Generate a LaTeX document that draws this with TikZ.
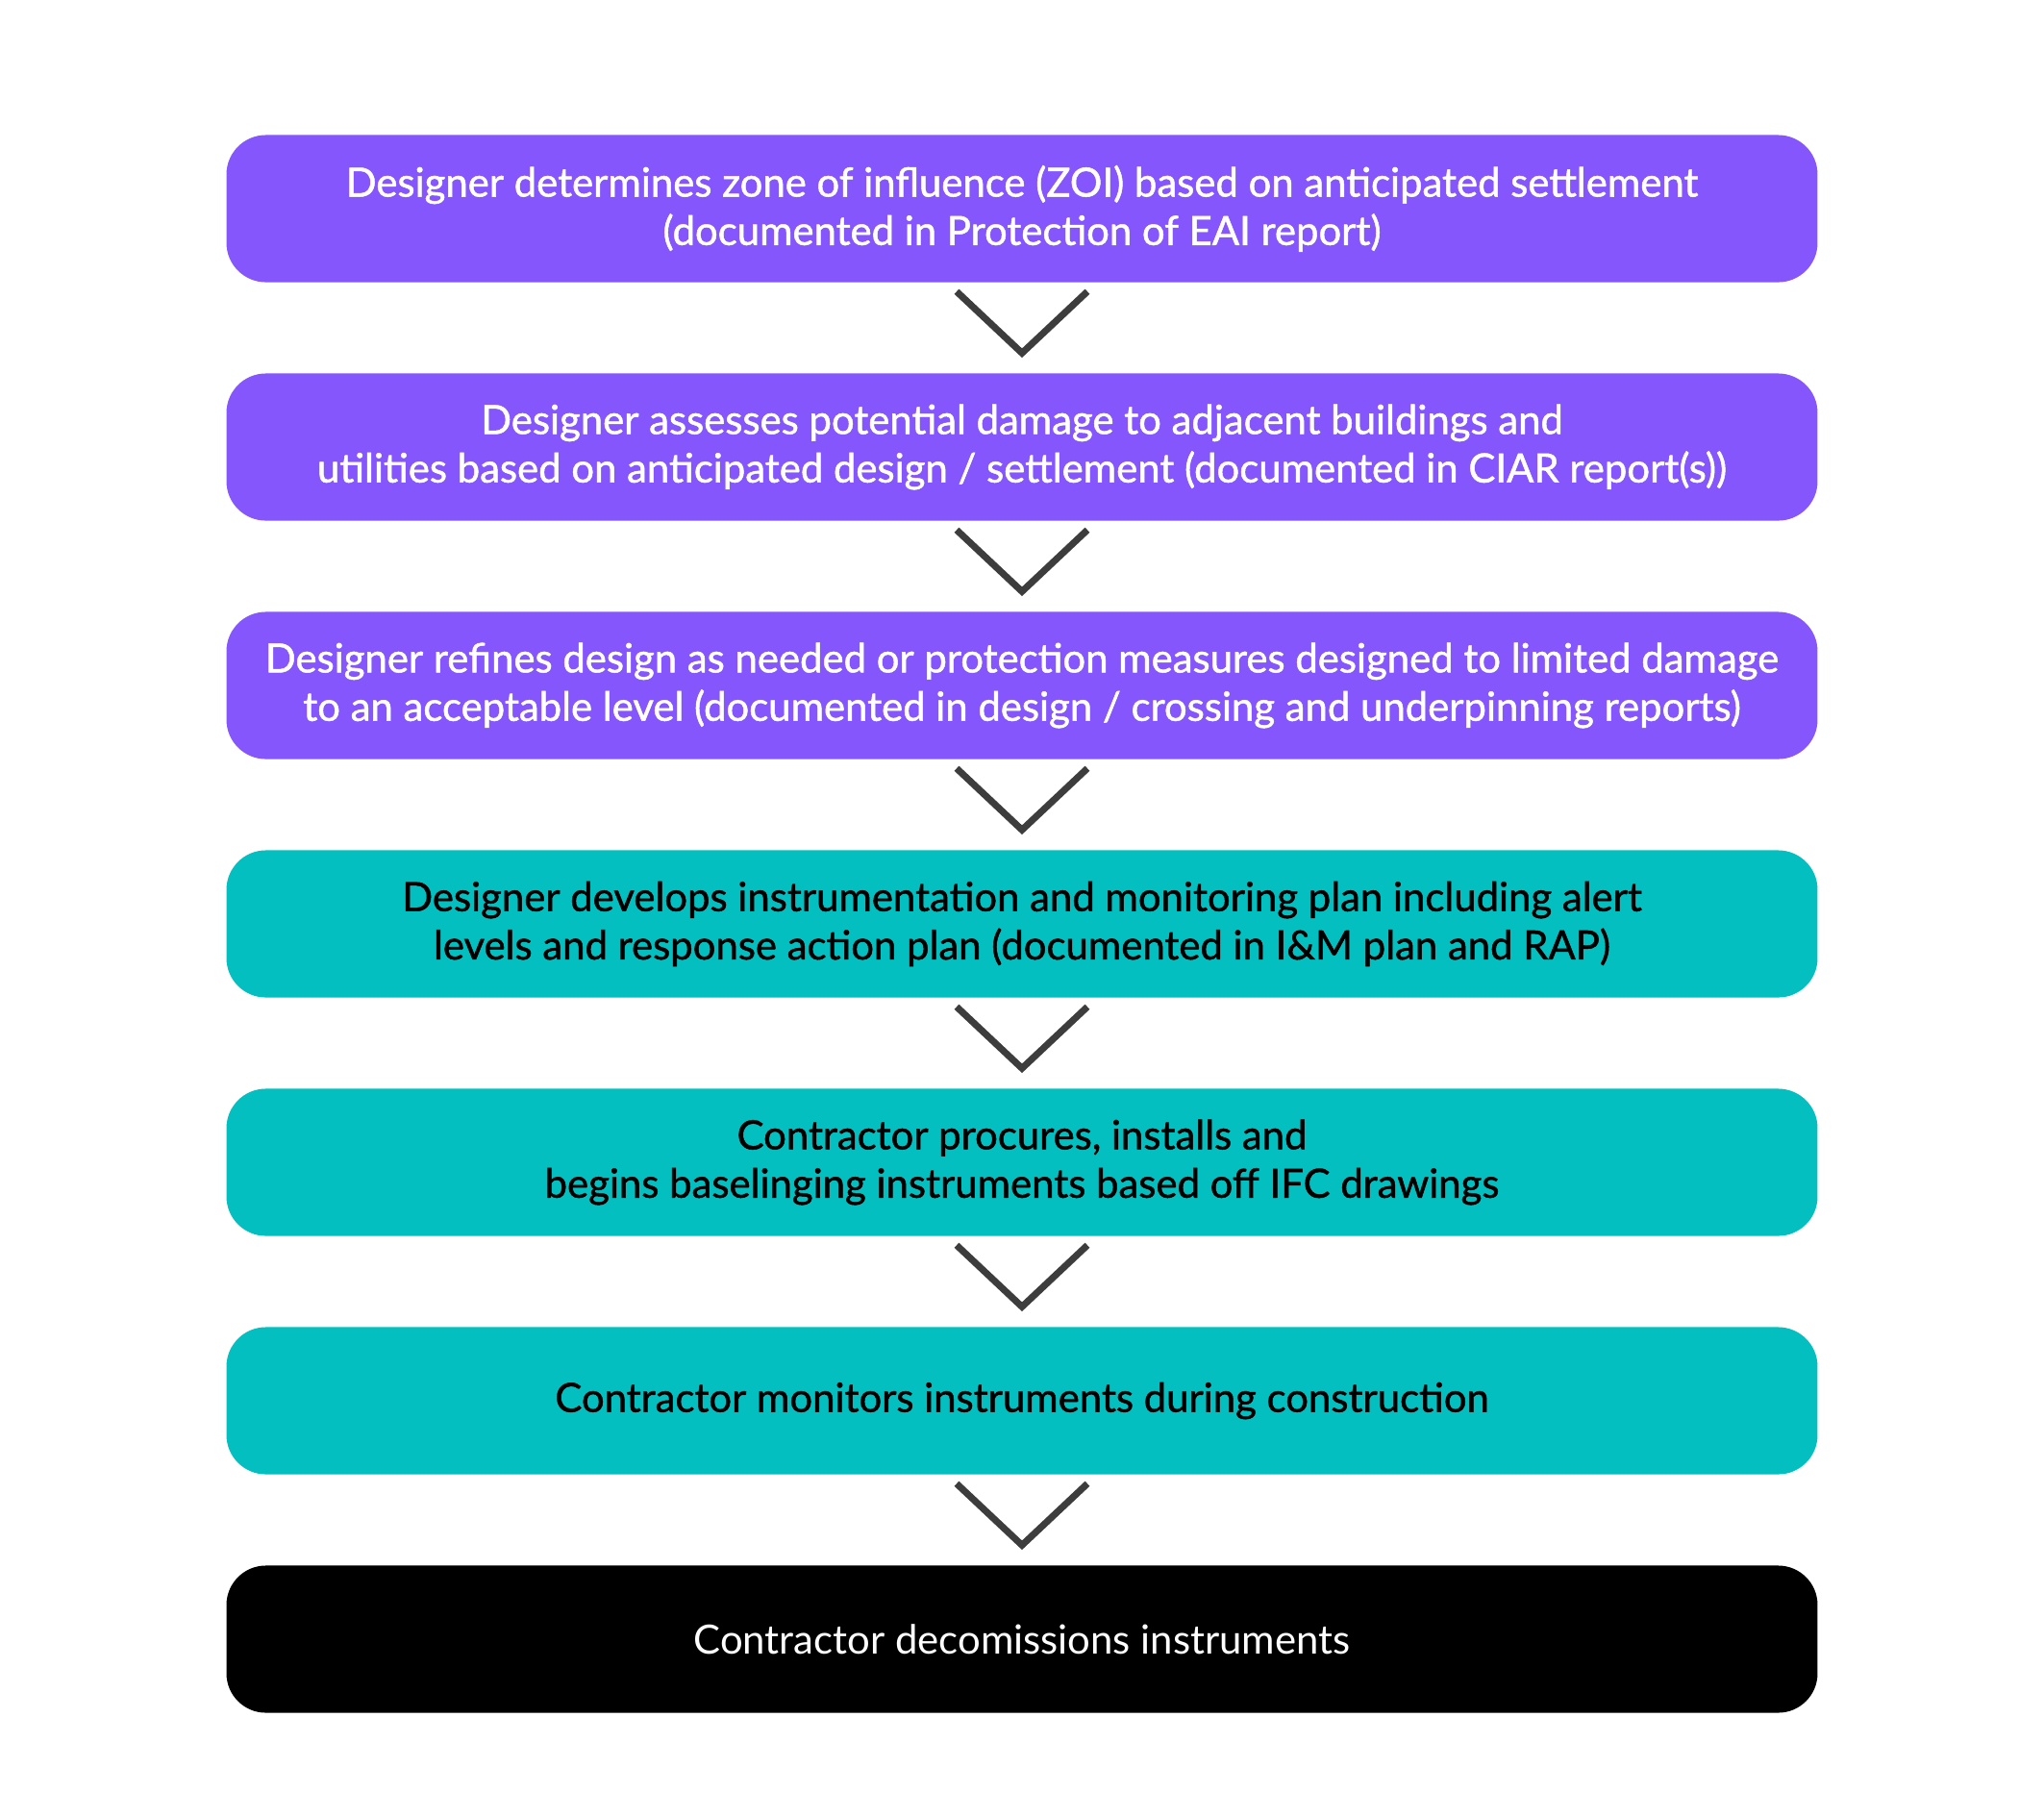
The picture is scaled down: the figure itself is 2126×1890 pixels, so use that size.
\documentclass[tikz,border=0pt]{standalone}
\usepackage{fontspec}
\setmainfont{Lato}
\newfontfamily\medfont[FakeBold=1.2]{Lato}
\usetikzlibrary{calc}
\definecolor{vio}{HTML}{8456FC}
\definecolor{tea}{HTML}{04BFBF}
\definecolor{chev}{HTML}{3D3D3D}
\begin{document}
\begin{tikzpicture}[x=0.01cm,y=-0.01cm,
 box/.style={rounded corners=0.41cm,minimum width=16.54cm,minimum height=1.53cm,align=center,font=\medfont\fontsize{11.9}{14.3}\selectfont,inner sep=0pt},
 pbox/.style={box,fill=vio,text=white},
 tbox/.style={box,fill=tea,text=black},
 kbox/.style={box,fill=black,text=white,font=\rmfamily\fontsize{11.9}{14.3}\selectfont},
 chv/.style={draw=chev,line width=2pt}]
\useasboundingbox (0,0) rectangle (2126,1890);
\node[pbox] (b1) at (1063,217) {Designer determines zone of influence (ZOI) based on anticipated settlement\\(documented in Protection of EAI report)};
\node[pbox] (b2) at (1063,465) {Designer assesses potential damage to adjacent buildings and\\utilities based on anticipated design / settlement (documented in CIAR report(s))};
\node[pbox] (b3) at (1063,713) {Designer refines design as needed or protection measures designed to limited damage\\to an acceptable level (documented in design / crossing and underpinning reports)};
\node[tbox] (b4) at (1063,961) {Designer develops instrumentation and monitoring plan including alert\\levels and response action plan (documented in I\&M plan and RAP)};
\node[tbox] (b5) at (1063,1209) {Contractor procures, installs and\\begins baselinging instruments based off IFC drawings};
\node[tbox] (b6) at (1063,1457) {Contractor monitors instruments during construction};
\node[kbox] (b7) at (1063,1705) {Contractor decomissions instruments};
\foreach \a in {b1,b2,b3,b4,b5,b6}{
 \draw[chv] ($(\a.south)+(-68,9)$) -- ($(\a.south)+(0,73)$) -- ($(\a.south)+(68,9)$);
}
\end{tikzpicture}
\end{document}
